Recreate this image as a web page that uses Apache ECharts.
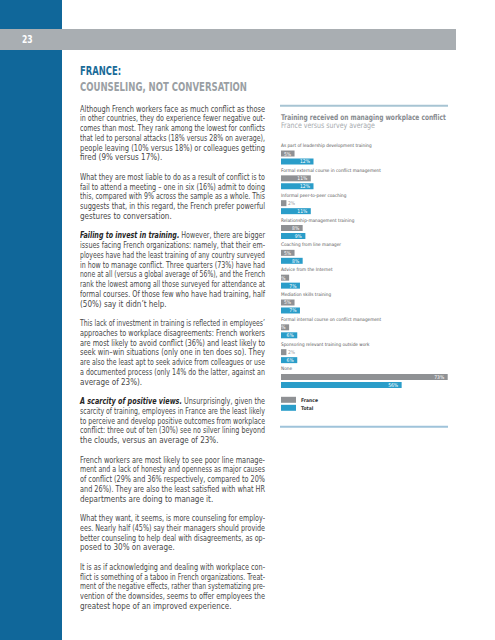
<!DOCTYPE html>
<html>
<head>
<meta charset="utf-8">
<script src="https://cdn.jsdelivr.net/npm/echarts@6.0.0/dist/echarts.min.js"></script>
<style>
  html, body { margin:0; padding:0; width:495px; height:640px; overflow:hidden; background:#fff; }
  body { position:relative; font-family:'Liberation Sans Narrow','DejaVu Sans Condensed','Liberation Sans',sans-serif; }
  #blue { position:absolute; left:0; top:0; width:62px; height:640px; background:#10679a; }
  #grayband { position:absolute; left:0; top:29px; width:456px; height:21px; background:#a9aeb2; }
  #pnum { position:absolute; left:22px; top:29px; height:21px; line-height:21px; color:#fff; font-weight:bold; font-size:10px; transform:scaleX(0.85); transform-origin:0 50%; }
  .hd { position:absolute; left:80px; font-weight:bold; font-size:11.5px; line-height:14px; white-space:nowrap; transform-origin:0 50%; }
  #h1 { top:64px; color:#1a6b98; }
  #h2 { top:80px; color:#9a9fa4; }
  #body { position:absolute; left:80px; top:104.5px; width:185px; font-size:8px; line-height:9.75px; color:#484848; }
  .ln { height:9.75px; white-space:nowrap; }
  .ln span { display:inline-block; white-space:nowrap; transform-origin:0 50%; }
  .gap { height:9.75px; }
  b i, i b { color:#262626; }
  #chart { position:absolute; left:0; top:0; width:495px; height:640px; }
</style>
</head>
<body>
<div id="blue"></div>
<div id="grayband"></div>
<div id="pnum">23</div>
<div id="h1" class="hd">FRANCE:</div>
<div id="h2" class="hd">COUNSELING, NOT CONVERSATION</div>
<div id="body"></div>
<div id="chart"></div>
<script>
// ---- text content ----
const paragraphs = [
  ["Although French workers face as much conflict as those",
   "in other countries, they do experience fewer negative out-",
   "comes than most. They rank among the lowest for conflicts",
   "that led to personal attacks (18% versus 28% on average),",
   "people leaving (10% versus 18%) or colleagues getting",
   "fired (9% versus 17%)."],
  ["What they are most liable to do as a result of conflict is to",
   "fail to attend a meeting – one in six (16%) admit to doing",
   "this, compared with 9% across the sample as a whole. This",
   "suggests that, in this regard, the French prefer powerful",
   "gestures to conversation."],
  ["<b><i>Failing to invest in training.</i></b> However, there are bigger",
   "issues facing French organizations: namely, that their em-",
   "ployees have had the least training of any country surveyed",
   "in how to manage conflict. Three quarters (73%) have had",
   "none at all (versus a global average of 56%), and the French",
   "rank the lowest among all those surveyed for attendance at",
   "formal courses. Of those few who have had training, half",
   "(50%) say it didn’t help."],
  ["This lack of investment in training is reflected in employees’",
   "approaches to workplace disagreements: French workers",
   "are most likely to avoid conflict (36%) and least likely to",
   "seek win–win situations (only one in ten does so). They",
   "are also the least apt to seek advice from colleagues or use",
   "a documented process (only 14% do the latter, against an",
   "average of 23%)."],
  ["<b><i>A scarcity of positive views.</i></b> Unsurprisingly, given the",
   "scarcity of training, employees in France are the least likely",
   "to perceive and develop positive outcomes from workplace",
   "conflict: three out of ten (30%) see no silver lining beyond",
   "the clouds, versus an average of 23%."],
  ["French workers are most likely to see poor line manage-",
   "ment and a lack of honesty and openness as major causes",
   "of conflict (29% and 36% respectively, compared to 20%",
   "and 26%). They are also the least satisfied with what HR",
   "departments are doing to manage it."],
  ["What they want, it seems, is more counseling for employ-",
   "ees. Nearly half (45%) say their managers should provide",
   "better counseling to help deal with disagreements, as op-",
   "posed to 30% on average."],
  ["It is as if acknowledging and dealing with workplace con-",
   "flict is something of a taboo in French organizations. Treat-",
   "ment of the negative effects, rather than systematizing pre-",
   "vention of the downsides, seems to offer employees the",
   "greatest hope of an improved experience."]
];

// fit headings to the reference widths
function fitWidth(el, target) {
  const w = el.getBoundingClientRect().width;
  if (w > 0) el.style.transform = 'scaleX(' + (target / w) + ')';
}
fitWidth(document.getElementById('h1'), 41);
fitWidth(document.getElementById('h2'), 167);

const bodyEl = document.getElementById('body');
const W = 185;
paragraphs.forEach((p, pi) => {
  if (pi > 0) { const g = document.createElement('div'); g.className = 'gap'; bodyEl.appendChild(g); }
  p.forEach((line, li) => {
    const d = document.createElement('div'); d.className = 'ln';
    const s = document.createElement('span'); s.innerHTML = line;
    d.appendChild(s); bodyEl.appendChild(d);
    const last = li === p.length - 1;
    const w = s.getBoundingClientRect().width;
    const n = (s.textContent.match(/ /g) || []).length;
    if (w > W) {
      s.style.transform = 'scaleX(' + (W / w) + ')';
    } else if (!last && n > 0) {
      s.style.wordSpacing = ((W - w) / n) + 'px';
    }
  });
});

// ---- chart data ----
const categories = [
  "As part of leadership development training",
  "Formal external course in conflict management",
  "Informal peer-to-peer coaching",
  "Relationship-management training",
  "Coaching from line manager",
  "Advice from the Internet",
  "Mediation skills training",
  "Formal internal course on conflict management",
  "Sponsoring relevant training outside work",
  "None"
];
const franceValues = [5, 11, 2, 8, 5, 3, 5, 3, 2, 73];
const totalValues  = [12, 12, 11, 9, 8, 7, 7, 6, 6, 56];
const seriesNames = ["France", "Total"];
const chartTitle = "Training received on managing workplace conflict";
const chartSubtitle = "France versus survey average";

const FONT = "'Liberation Sans Narrow','DejaVu Sans Condensed','Liberation Sans',sans-serif";
const GRAY = '#8f9194', BLUE = '#2a9dc9';

// text measuring (to emulate the condensed face of the original)
const mctx = document.createElement('canvas').getContext('2d');
function textW(txt, size, weight) {
  mctx.font = (weight || 'normal') + ' ' + size + 'px ' + FONT;
  return mctx.measureText(txt).width;
}
const titleScale = 165 / textW(chartTitle, 8, 'bold');
const subScale = 94 / textW(chartSubtitle, 8, 'normal');
const catFont = Math.min(5.3, 5.3 * 91 / textW(categories[0], 5.3, 'normal'));

function items(vals) {
  return vals.map(v => v <= 2
    ? { value: v, label: { position: 'right', color: '#a0a0a0', distance: 1.5 } }
    : { value: v });
}
const valueLabel = {
  show: true, position: 'insideRight', distance: 3.5, formatter: '{c}%',
  color: '#fff', fontSize: 5, fontFamily: FONT
};

const chart = echarts.init(document.getElementById('chart'), null, { renderer: 'svg' });
chart.setOption({
  animation: false,
  textStyle: { fontFamily: FONT },
  legend: {
    data: seriesNames, orient: 'vertical', left: 281, top: 396.8, padding: 0,
    itemWidth: 15, itemHeight: 6, itemGap: 2, icon: 'rect',
    textStyle: { fontSize: 5, fontWeight: 'bold', color: '#333', fontFamily: FONT }
  },
  graphic: [
    { type: 'line', shape: { x1: 280, y1: 105.8, x2: 448, y2: 105.8 }, style: { stroke: '#a7c4d3', lineWidth: 2 } },
    { type: 'line', shape: { x1: 280, y1: 426.8, x2: 448, y2: 426.8 }, style: { stroke: '#9fc3da', lineWidth: 2 } },
    { type: 'text', x: 281, y: 117.3, scaleX: titleScale,
      style: { text: chartTitle, fontSize: 8, fontWeight: 'bold', fontFamily: FONT, fill: '#878b8f',
               align: 'left', verticalAlign: 'middle' } },
    { type: 'text', x: 281, y: 125.3, scaleX: subScale,
      style: { text: chartSubtitle, fontSize: 8, fontFamily: FONT, fill: '#a6aaae',
               align: 'left', verticalAlign: 'middle' } }
  ],
  grid: { left: 281, top: 141.1, width: 166.7, height: 248.3, containLabel: false },
  xAxis: {
    type: 'value', min: 0, max: 73, show: false, splitLine: { show: false },
    breaks: [{ start: 13, end: 50, gap: '41.5%' }],
    breakArea: { show: false }
  },
  yAxis: {
    type: 'category', data: categories, inverse: true,
    axisLine: { show: false }, axisTick: { show: false }, splitLine: { show: false },
    axisLabel: {
      inside: true, margin: 0, interval: 0, fontSize: catFont, color: '#555',
      verticalAlign: 'bottom', lineHeight: 7, padding: [0, 0, 4.5, 0], fontFamily: FONT
    }
  },
  series: [
    { type: 'bar', name: 'spacer', data: categories.map(() => null), barWidth: 6, silent: true,
      itemStyle: { color: 'rgba(0,0,0,0)' } },
    { type: 'bar', name: seriesNames[0], data: items(franceValues), barWidth: 6, barGap: '33%',
      itemStyle: { color: GRAY }, label: valueLabel },
    { type: 'bar', name: seriesNames[1], data: items(totalValues), barWidth: 6, barGap: '33%',
      itemStyle: { color: BLUE }, label: valueLabel }
  ]
});
</script>
</body>
</html>
